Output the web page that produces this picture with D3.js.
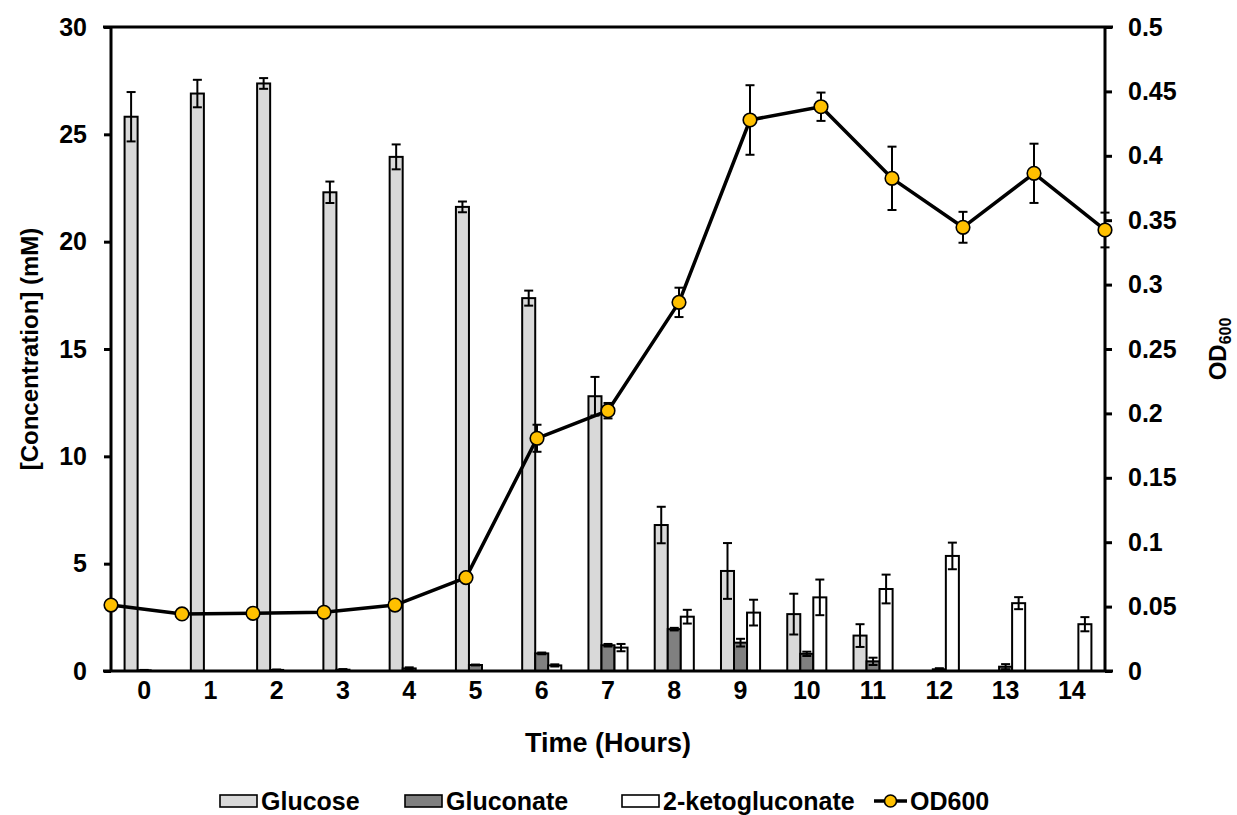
<!DOCTYPE html>
<html>
<head>
<meta charset="utf-8">
<script src="https://cdn.jsdelivr.net/npm/d3@7/dist/d3.min.js"></script>
<style>
  html, body { margin: 0; padding: 0; background: #fff; }
  svg { display: block; }
  text { font-family: "Liberation Sans", Arial, sans-serif; font-weight: bold; fill: #000; }
</style>
</head>
<body>
<svg id="chart" width="1237" height="815"></svg>
<script>
// Sampling times (hours)
const hours = [0, 1, 2, 3, 4, 5, 6, 7, 8, 9, 10, 11, 12, 13, 14];

// Substrate concentrations (mM) with standard deviations
const glucose     = [25.82, 26.9, 27.37, 22.3, 23.95, 21.62, 17.37, 12.8, 6.8, 4.66, 2.65, 1.65, 0, 0, 0];
const glucoseErr  = [1.15, 0.64, 0.25, 0.5, 0.58, 0.25, 0.35, 0.9, 0.85, 1.3, 0.95, 0.53, 0, 0, 0];
const gluconate    = [0.03, 0, 0.05, 0.06, 0.12, 0.28, 0.82, 1.2, 1.95, 1.32, 0.8, 0.45, 0.08, 0.2, 0];
const gluconateErr = [0.02, 0, 0.02, 0.03, 0.05, 0.02, 0.04, 0.06, 0.06, 0.18, 0.1, 0.17, 0.05, 0.12, 0];
const ketogluconate    = [0, 0, 0, 0, 0, 0, 0.26, 1.09, 2.53, 2.72, 3.43, 3.82, 5.36, 3.16, 2.18];
const ketogluconateErr = [0, 0, 0, 0, 0, 0, 0.05, 0.17, 0.32, 0.6, 0.83, 0.67, 0.62, 0.28, 0.33];

// Optical density at 600 nm
const od600    = [0.0512, 0.0443, 0.0448, 0.0456, 0.0512, 0.0725, 0.1807, 0.2021, 0.2862, 0.4278, 0.4381, 0.3825, 0.3445, 0.3864, 0.3424];
const od600Err = [0, 0, 0, 0, 0, 0, 0.0105, 0.006, 0.0114, 0.027, 0.011, 0.0246, 0.012, 0.023, 0.0135];

// Axis ticks
const leftTicks  = [0, 5, 10, 15, 20, 25, 30];
const rightTicks = [0, 0.05, 0.1, 0.15, 0.2, 0.25, 0.3, 0.35, 0.4, 0.45, 0.5];

const seriesNames  = ["Glucose", "Gluconate", "2-ketogluconate"];
const seriesFills  = ["#d9d9d9", "#808080", "#ffffff"];
const seriesValues = [glucose, gluconate, ketogluconate];
const seriesErrors = [glucoseErr, gluconateErr, ketogluconateErr];

const plotLeft = 111, plotRight = 1105, plotTop = 27, plotBottom = 671;
const tickFont = "25px", legendFont = "25px";

const svg = d3.select("#chart");

const x = d3.scaleBand().domain(hours).range([plotLeft, plotRight]).paddingInner(0).paddingOuter(0);
const groupW = x.bandwidth() * 0.59;
const xs = d3.scaleBand().domain(seriesNames).range([0, groupW]);
const xLine = d3.scalePoint().domain(hours).range([plotLeft, plotRight]);
const yL = d3.scaleLinear().domain([0, 30]).range([plotBottom, plotTop]);
const yR = d3.scaleLinear().domain([0, 0.5]).range([plotBottom, plotTop]);

const rows = [];
seriesNames.forEach((name, si) => {
  hours.forEach((h, i) => {
    rows.push({ name, h, v: seriesValues[si][i], e: seriesErrors[si][i], fill: seriesFills[si] });
  });
});

const barX = d => x(d.h) + (x.bandwidth() - groupW) / 2 + xs(d.name);

// Bars
svg.append("g").selectAll("rect")
  .data(rows.filter(d => d.v > 0))
  .join("rect")
  .attr("x", barX)
  .attr("y", d => yL(d.v))
  .attr("width", xs.bandwidth())
  .attr("height", d => yL(0) - yL(d.v))
  .attr("fill", d => d.fill)
  .attr("stroke", "#000")
  .attr("stroke-width", 2);

// Bar error bars
const cap = 4.5;
const be = svg.append("g").attr("stroke", "#000").attr("stroke-width", 2);
rows.filter(d => d.e > 0).forEach(d => {
  const cx = barX(d) + xs.bandwidth() / 2;
  const y1 = yL(d.v + d.e), y2 = yL(Math.max(0, d.v - d.e));
  be.append("line").attr("x1", cx).attr("x2", cx).attr("y1", y1).attr("y2", y2);
  be.append("line").attr("x1", cx - cap).attr("x2", cx + cap).attr("y1", y1).attr("y2", y1);
  be.append("line").attr("x1", cx - cap).attr("x2", cx + cap).attr("y1", y2).attr("y2", y2);
});

// Axes frame
const axisG = svg.append("g").attr("stroke", "#000").attr("stroke-width", 3);
axisG.append("line").attr("x1", plotLeft - 8).attr("x2", plotRight + 8).attr("y1", plotBottom).attr("y2", plotBottom);
axisG.append("line").attr("x1", plotLeft - 8).attr("x2", plotRight + 8).attr("y1", plotTop).attr("y2", plotTop);
axisG.append("line").attr("x1", plotLeft).attr("x2", plotLeft).attr("y1", plotTop).attr("y2", plotBottom);
axisG.append("line").attr("x1", plotRight).attr("x2", plotRight).attr("y1", plotTop).attr("y2", plotBottom);

const leftAxis = svg.append("g").attr("transform", `translate(${plotLeft},0)`)
  .call(d3.axisLeft(yL).tickValues(leftTicks).tickSize(7).tickPadding(17).tickFormat(d3.format("d")));
const rightAxis = svg.append("g").attr("transform", `translate(${plotRight},0)`)
  .call(d3.axisRight(yR).tickValues(rightTicks).tickSize(7).tickPadding(16).tickFormat(d => String(+d.toFixed(2))));
const bottomAxis = svg.append("g").attr("transform", `translate(0,${plotBottom})`)
  .call(d3.axisBottom(x).tickSize(0).tickPadding(10));

[leftAxis, rightAxis, bottomAxis].forEach(g => {
  g.select(".domain").remove();
  g.selectAll(".tick line").attr("stroke", "#000").attr("stroke-width", 3);
  g.selectAll(".tick text").style("font-size", tickFont).style("font-family", "Liberation Sans, Arial, sans-serif").style("font-weight", "bold").attr("fill", "#000");
});

// OD600 line
const line = d3.line().x((d, i) => xLine(hours[i])).y(d => yR(d));
svg.append("path").datum(od600).attr("d", line)
  .attr("fill", "none").attr("stroke", "#000").attr("stroke-width", 3.5).attr("stroke-linejoin", "round");

// OD600 error bars
const oe = svg.append("g").attr("stroke", "#000").attr("stroke-width", 2);
od600.forEach((v, i) => {
  const e = od600Err[i];
  if (!(e > 0)) return;
  const cx = xLine(hours[i]);
  const y1 = yR(v + e), y2 = yR(v - e);
  oe.append("line").attr("x1", cx).attr("x2", cx).attr("y1", y1).attr("y2", y2);
  oe.append("line").attr("x1", cx - cap).attr("x2", cx + cap).attr("y1", y1).attr("y2", y1);
  oe.append("line").attr("x1", cx - cap).attr("x2", cx + cap).attr("y1", y2).attr("y2", y2);
});

// OD600 markers
svg.append("g").selectAll("circle").data(od600).join("circle")
  .attr("cx", (d, i) => xLine(hours[i]))
  .attr("cy", d => yR(d))
  .attr("r", 6.8)
  .attr("fill", "#ffc000")
  .attr("stroke", "#000")
  .attr("stroke-width", 1.6);

// Axis titles
svg.append("text").attr("x", 608).attr("y", 752).attr("text-anchor", "middle")
  .style("font-size", "27px").text("Time (Hours)");
svg.append("text").attr("transform", "translate(38,349) rotate(-90)").attr("text-anchor", "middle")
  .style("font-size", "24px").text("[Concentration] (mM)");
const od = svg.append("text").attr("transform", "translate(1226,349) rotate(-90)").attr("text-anchor", "middle")
  .style("font-size", "24px");
od.append("tspan").text("OD");
od.append("tspan").attr("dy", 5).style("font-size", "16px").text("600");

// Legend
const legend = svg.append("g");
const legendItems = [
  { label: "Glucose", x: 220, fill: seriesFills[0] },
  { label: "Gluconate", x: 405, fill: seriesFills[1] },
  { label: "2-ketogluconate", x: 622, fill: seriesFills[2] }
];
legendItems.forEach(it => {
  legend.append("rect").attr("x", it.x).attr("y", 795).attr("width", 37).attr("height", 12)
    .attr("fill", it.fill).attr("stroke", "#000").attr("stroke-width", 1.6);
  legend.append("text").attr("x", it.x + 41).attr("y", 810).style("font-size", legendFont).text(it.label);
});
legend.append("line").attr("x1", 874).attr("x2", 907).attr("y1", 801).attr("y2", 801)
  .attr("stroke", "#000").attr("stroke-width", 3.5);
legend.append("circle").attr("cx", 890.5).attr("cy", 801).attr("r", 6)
  .attr("fill", "#ffc000").attr("stroke", "#000").attr("stroke-width", 1.6);
legend.append("text").attr("x", 910).attr("y", 810).style("font-size", legendFont).text("OD600");
</script>
</body>
</html>
